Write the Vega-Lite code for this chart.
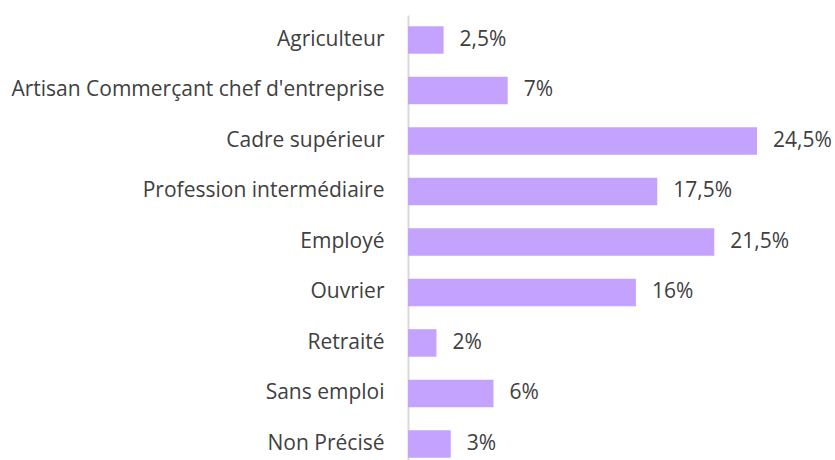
{
  "$schema": "https://vega.github.io/schema/vega-lite/v6.json",
  "autosize": "none",
  "width": 349,
  "height": 445,
  "padding": {"left": 408, "top": 15, "right": 78, "bottom": 0},
  "background": "white",
  "config": {"view": {"stroke": null}, "font": "Open Sans"},
  "data": {
    "values": [
      {"cat": "Agriculteur", "v": 2.5, "label": "2,5%"},
      {"cat": "Artisan Commerçant chef d'entreprise", "v": 7, "label": "7%"},
      {"cat": "Cadre supérieur", "v": 24.5, "label": "24,5%"},
      {"cat": "Profession intermédiaire", "v": 17.5, "label": "17,5%"},
      {"cat": "Employé", "v": 21.5, "label": "21,5%"},
      {"cat": "Ouvrier", "v": 16, "label": "16%"},
      {"cat": "Retraité", "v": 2, "label": "2%"},
      {"cat": "Sans emploi", "v": 6, "label": "6%"},
      {"cat": "Non Précisé", "v": 3, "label": "3%"}
    ]
  },
  "encoding": {
    "y": {
      "field": "cat", "type": "nominal", "sort": null, "title": null,
      "scale": {"paddingInner": 0.455, "paddingOuter": 0.133, "align": 0.83},
      "axis": {
        "domainColor": "#D9D9D9", "domainWidth": 2, "ticks": false,
        "labelFontSize": 21, "labelColor": "#404040", "labelPadding": 24,
        "labelLimit": 500, "labelFont": "Open Sans"
      }
    },
    "x": {
      "field": "v", "type": "quantitative", "scale": {"domain": [0, 24.5], "nice": false},
      "axis": null
    }
  },
  "layer": [
    {"mark": {"type": "bar", "color": "#C4A3FF"}},
    {
      "mark": {"type": "text", "align": "left", "dx": 16, "fontSize": 21, "color": "#404040", "baseline": "middle", "font": "Open Sans"},
      "encoding": {"text": {"field": "label"}}
    }
  ]
}
